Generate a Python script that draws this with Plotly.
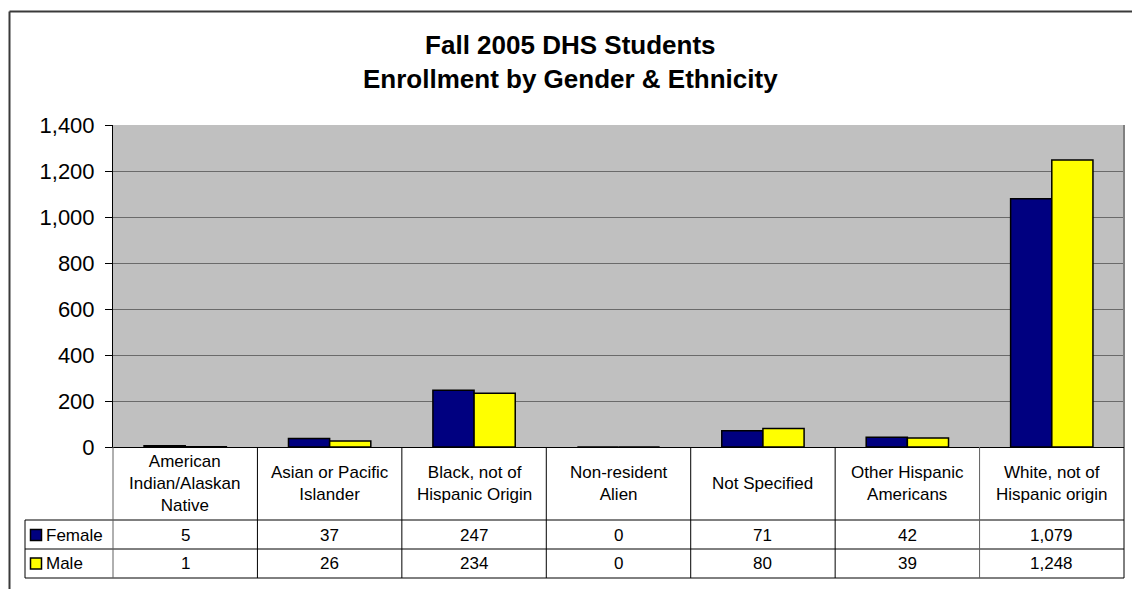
import plotly.graph_objects as go

categories = [
    "American<br>Indian/Alaskan<br>Native",
    "Asian or Pacific<br>Islander",
    "Black, not of<br>Hispanic Origin",
    "Non-resident<br>Alien",
    "Not Specified",
    "Other Hispanic<br>Americans",
    "White, not of<br>Hispanic origin",
]
female = [5, 37, 247, 0, 71, 42, 1079]
male = [1, 26, 234, 0, 80, 39, 1248]
series_names = ["Female", "Male"]
series_colors = ["#000080", "#FFFF00"]
title_lines = ["Fall 2005 DHS Students", "Enrollment by Gender & Ethnicity"]

W, H = 1132, 589
L, R, T, B = 113, 1124, 125, 447
FONT = "Liberation Sans, Arial, sans-serif"


def px(x):
    return (x - L) / (R - L)


def py(y):
    return (B - y) / (B - T)


fig = go.Figure()
for name, vals, col in zip(series_names, [female, male], series_colors):
    fig.add_trace(go.Bar(
        x=categories, y=vals, name=name,
        marker=dict(color=col, line=dict(color="black", width=1.5)),
        hoverinfo="x+y+name",
    ))

shapes = []
ann = []

# outer chart border
shapes.append(dict(type="line", xref="paper", yref="paper", x0=px(9.5), x1=px(1140),
                   y0=py(11.5), y1=py(11.5), line=dict(color="#3a3a3a", width=2)))
shapes.append(dict(type="line", xref="paper", yref="paper", x0=px(9.5), x1=px(9.5),
                   y0=py(11.5), y1=py(600), line=dict(color="#3a3a3a", width=2)))
# plot area right border
shapes.append(dict(type="line", xref="paper", yref="paper", x0=1, x1=1,
                   y0=0, y1=1, line=dict(color="#808080", width=2)))

# data table
row_head_bottom, row1_bottom, row2_bottom = 520, 549, 578
n = len(categories)
for yy in [row_head_bottom, row1_bottom, row2_bottom]:
    shapes.append(dict(type="line", xref="paper", yref="paper", x0=px(25), x1=1,
                       y0=py(yy), y1=py(yy), line=dict(color="black", width=1)))
for i in range(n + 1):
    shapes.append(dict(type="line", xref="paper", yref="paper", x0=i / n, x1=i / n,
                       y0=py(447), y1=py(row2_bottom),
                       line=dict(color="#606060" if i in (0, n - 1) else "black", width=1)))
shapes.append(dict(type="line", xref="paper", yref="paper", x0=px(25), x1=px(25),
                   y0=py(row_head_bottom), y1=py(row2_bottom), line=dict(color="black", width=1)))

for cat in categories:
    ann.append(dict(x=cat, xref="x", y=py(483.5), yref="paper", text=cat, showarrow=False,
                    font=dict(family=FONT, size=17, color="black"), align="center",
                    xanchor="center", yanchor="middle"))

row_centers = [535, 563.5]
for name, vals, col, yc in zip(series_names, [female, male], series_colors, row_centers):
    for cat, v in zip(categories, vals):
        ann.append(dict(x=cat, xref="x", y=py(yc), yref="paper", text=f"{v:,}",
                        showarrow=False, font=dict(family=FONT, size=17, color="black"),
                        xanchor="center", yanchor="middle"))
    shapes.append(dict(type="rect", xref="paper", yref="paper", x0=px(30.5), x1=px(41.5),
                       y0=py(yc - 5.5), y1=py(yc + 5.5), fillcolor=col,
                       line=dict(color="black", width=1.5)))
    ann.append(dict(x=px(44), xref="paper", y=py(yc), yref="paper", text=name,
                    showarrow=False, font=dict(family=FONT, size=17, color="black"),
                    xanchor="left", yanchor="middle"))

ann.append(dict(x=0.5 * (px(9) + px(1132)), xref="paper", y=py(62), yref="paper",
                text="<b>" + "<br>".join(title_lines) + "</b>", showarrow=False,
                font=dict(family=FONT, size=26, color="black"), align="center",
                xanchor="center", yanchor="middle"))

fig.update_layout(
    width=W, height=H,
    margin=dict(l=L, r=W - R, t=T, b=H - B, pad=0),
    paper_bgcolor="white", plot_bgcolor="#C0C0C0",
    barmode="group", bargap=0.43, bargroupgap=0,
    showlegend=False,
    shapes=shapes, annotations=ann,
    font=dict(family=FONT, color="black"),
    xaxis=dict(showticklabels=False, showline=True, linecolor="black", linewidth=1,
               ticks="", showgrid=False, range=[-0.5, n - 0.5], fixedrange=True),
    yaxis=dict(range=[0, 1400], dtick=200, tickformat=",", showgrid=True,
               gridcolor="#6a6a6a", gridwidth=1, showline=True, linecolor="black",
               linewidth=1, ticks="outside", ticklen=7, tickcolor="black",
               tickfont=dict(family=FONT, size=22, color="black"), zeroline=False,
               ticklabelstandoff=6),
)

fig.write_html(
    "out.html",
    config={"displayModeBar": False},
    post_script="document.body.style.margin='0';document.body.style.padding='0';"
                "document.body.style.overflow='hidden';",
)
